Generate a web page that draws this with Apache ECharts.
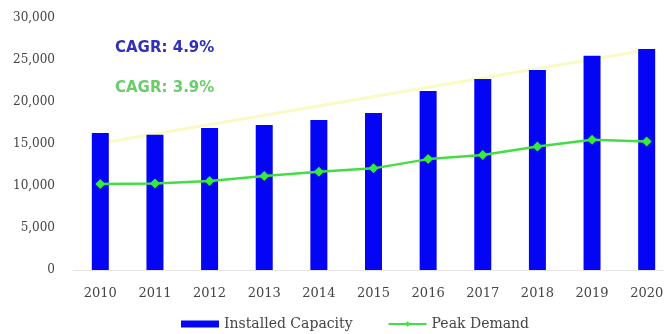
<!DOCTYPE html>
<html>
<head>
<meta charset="utf-8">
<script src="https://cdn.jsdelivr.net/npm/echarts@6/dist/echarts.min.js"></script>
<style>
  html, body { margin: 0; padding: 0; background: #fff; overflow: hidden; }
  /* plot area runs slightly past the right edge of the window */
  #chart { width: 674px; height: 334px; }
</style>
</head>
<body>
<div id="chart"></div>
<script>
// Installed capacity vs. peak demand, 2010-2020 (MW)
const years = ['2010', '2011', '2012', '2013', '2014', '2015', '2016', '2017', '2018', '2019', '2020'];
const installedCapacity = [16300, 16100, 16900, 17250, 17850, 18700, 21300, 22750, 23800, 25500, 26300];
const peakDemand = [10250, 10300, 10600, 11200, 11700, 12100, 13200, 13700, 14700, 15500, 15300];
// Capacity growth trend line (start and end years only)
const capacityTrend = [15100, null, null, null, null, null, null, null, null, null, 26200];
const capacityCagr = 'CAGR: 4.9%';
const demandCagr = 'CAGR: 3.9%';

const serif = '"DejaVu Serif", "Liberation Serif", serif';
const boldSans = 'bold 15px "DejaVu Sans", "Liberation Sans", sans-serif';
const chart = echarts.init(document.getElementById('chart'));

chart.setOption({
  animation: false,
  backgroundColor: '#ffffff',
  grid: { left: 73, right: 0, top: 18, bottom: 64, containLabel: false },
  xAxis: {
    type: 'category',
    data: years,
    boundaryGap: true,
    axisLine: { show: true, lineStyle: { color: '#e6e6e6', width: 1 } },
    axisTick: { show: false },
    axisLabel: { fontFamily: serif, fontSize: 13, color: '#444', margin: 17 }
  },
  yAxis: {
    type: 'value',
    min: 0,
    max: 30000,
    interval: 5000,
    axisLine: { show: false },
    axisTick: { show: false },
    splitLine: { show: false },
    axisLabel: {
      fontFamily: serif, fontSize: 12, color: '#444', margin: 18,
      formatter: v => v.toLocaleString('en-US')
    }
  },
  legend: {
    top: 312,
    left: 176,
    itemGap: 35,
    itemWidth: 38,
    itemHeight: 7,
    textStyle: { fontFamily: serif, fontSize: 14, color: '#444' },
    data: [
      { name: 'Installed Capacity', icon: 'rect' },
      { name: 'Peak Demand' }
    ]
  },
  graphic: [
    {
      type: 'text', left: 115, top: 41,
      style: { text: capacityCagr, font: boldSans, fill: '#3030b8' }
    },
    {
      type: 'text', left: 115, top: 81,
      style: { text: demandCagr, font: boldSans, fill: '#6ccc6c' }
    }
  ],
  series: [
    {
      name: 'Installed Capacity',
      type: 'bar',
      data: installedCapacity,
      barWidth: 17,
      itemStyle: { color: '#0505f5' },
      z: 2
    },
    {
      name: 'Capacity Trend',
      type: 'line',
      data: capacityTrend,
      connectNulls: true,
      symbol: 'none',
      lineStyle: { color: '#fafac4', width: 3 },
      z: 1,
      silent: true
    },
    {
      name: 'Peak Demand',
      type: 'line',
      data: peakDemand,
      symbol: 'diamond',
      symbolSize: 10,
      itemStyle: { color: '#33ee33' },
      lineStyle: { color: '#44dd44', width: 2.5 },
      z: 3
    }
  ]
});
</script>
</body>
</html>
